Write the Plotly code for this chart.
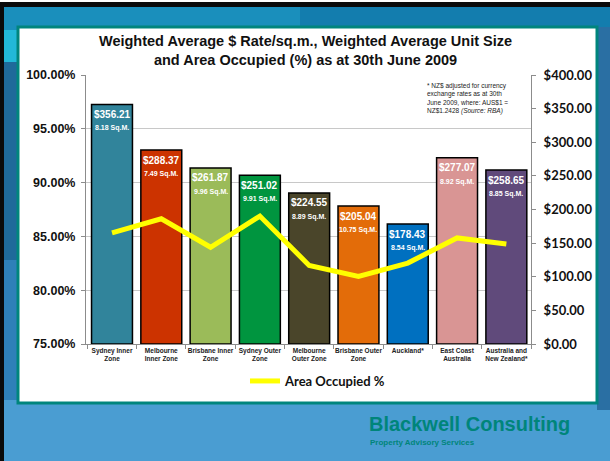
import plotly.graph_objects as go

# ---------------- data ----------------
categories = ["Sydney Inner Zone", "Melbourne Inner Zone", "Brisbane Inner Zone",
              "Sydney Outer Zone", "Melbourne Outer Zone", "Brisbane Outer Zone",
              "Auckland*", "East Coast Australia", "Australia and New Zealand*"]
tick_labels = ["Sydney Inner<br>Zone", "Melbourne<br>Inner Zone", "Brisbane Inner<br>Zone",
               "Sydney Outer<br>Zone", "Melbourne<br>Outer Zone", "Brisbane Outer<br>Zone",
               "Auckland*", "East Coast<br>Australia", "Australia and<br>New Zealand*"]
rate = [356.21, 288.37, 261.87, 251.02, 224.55, 205.04, 178.43, 277.07, 258.65]
unit_size = [8.18, 7.49, 9.96, 9.91, 8.89, 10.75, 8.54, 8.92, 8.85]
area_occupied = [85.33, 86.64, 83.99, 86.89, 82.30, 81.27, 82.52, 84.86, 84.30]
bar_colors = ["#31849B", "#CC3300", "#9BBB59", "#00953F", "#4A452A",
              "#E36C09", "#0070C0", "#D99594", "#604A7B"]
pct_ticks = [75, 80, 85, 90, 95, 100]
pct_grid = [80, 85, 90, 95]
usd_ticks = [0, 50, 100, 150, 200, 250, 300, 350, 400]

# ---------------- geometry helpers ----------------
W, H = 610, 461
L, R, T, B = 86, 531, 75, 344


def px(x):
    return (x - L) / (R - L)


def py(y):
    return (B - y) / (B - T)


fig = go.Figure()

fig.add_trace(go.Bar(
    x=categories, y=rate, yaxis="y",
    marker=dict(color=bar_colors, line=dict(color="#000000", width=1.5)),
    showlegend=False, hoverinfo="skip",
))
fig.add_trace(go.Scatter(
    x=categories, y=area_occupied, yaxis="y2", mode="lines",
    line=dict(color="#FFFF00", width=5),
    name="<b>Area Occupied %</b>",
))

annotations = []
for c, r, u in zip(categories, rate, unit_size):
    annotations.append(dict(x=c, y=r, xref="x", yref="y", text=f"<b>${r:.2f}</b>",
                            showarrow=False, yshift=-10, yanchor="middle",
                            font=dict(family="Liberation Sans", size=10, color="white")))
    annotations.append(dict(x=c, y=r, xref="x", yref="y", text=f"<b>{u:.2f} Sq.M.</b>",
                            showarrow=False, yshift=-24, yanchor="middle",
                            font=dict(family="Liberation Sans", size=7, color="white")))

annotations.append(dict(
    x=px(425), y=py(80), xref="paper", yref="paper", xanchor="left", yanchor="top",
    align="left", showarrow=False,
    text="* NZ$ adjusted for currency<br>exchange rates as at 30th<br>June 2009, where: AUS$1 =<br>NZ$1.2428 <i>(Source: RBA)</i>",
    font=dict(family="Liberation Sans", size=6.5, color="#222222")))
annotations.append(dict(
    x=px(305), y=py(51), xref="paper", yref="paper", xanchor="center", yanchor="middle",
    showarrow=False,
    text="<b>Weighted Average $ Rate/sq.m., Weighted Average Unit Size<br>and Area Occupied (%) as at 30th June 2009</b>",
    font=dict(family="Liberation Sans", size=14.5, color="#111111")))
annotations.append(dict(
    x=px(367), y=py(424), xref="paper", yref="paper", xanchor="left", yanchor="middle",
    showarrow=False, text="<b>Blackwell Consulting</b>",
    font=dict(family="Liberation Sans", size=20, color="#00857A")))
annotations.append(dict(
    x=px(368), y=py(442), xref="paper", yref="paper", xanchor="left", yanchor="middle",
    showarrow=False, text="<b>Property Advisory Services</b>",
    font=dict(family="Liberation Sans", size=8, color="#00857A")))


def rect(x0, y0, x1, y1, fill, line=None, lw=0):
    return dict(type="rect", xref="paper", yref="paper", layer="below",
                x0=px(x0), x1=px(x1), y0=py(y1), y1=py(y0), fillcolor=fill,
                line=dict(color=line or fill, width=lw))


shapes = [
    rect(0, 0, W, 30, "#1A8FBC"),
    rect(300, 0, W, 30, "#137DAE"),
    rect(0, 0, W, 2, "#FFFFFF"),
    rect(0, 2, W, 7, "#0A0A0A"),
    rect(0, 2, 4, H, "#0A0A0A"),
    rect(4, 30, 18, 62, "#22B8D8"),
    rect(4, 62, 18, 260, "#1F6A9A"),
    rect(4, 260, 18, 400, "#2F80B8"),
    rect(597, 27, W, 410, "#2A6FA3"),
    rect(18, 27, 597, 403, "#FFFFFF", "#00857D", 3),
]

fig.update_layout(
    width=W, height=H,
    margin=dict(l=L, r=W - R, t=T, b=H - B, pad=0),
    paper_bgcolor="#4A9DD2",
    plot_bgcolor="rgba(0,0,0,0)",
    bargap=0.17,
    showlegend=True,
    legend=dict(orientation="h", x=px(318), y=py(381), xanchor="center", yanchor="middle",
                bgcolor="rgba(0,0,0,0)",
                font=dict(family="Lato", size=13, color="#111111")),
    xaxis=dict(tickmode="array", tickvals=categories,
               ticktext=[f"<b>{t}</b>" for t in tick_labels], tickangle=0,
               tickfont=dict(family="Liberation Sans", size=6.5, color="#222222"),
               showline=True, linecolor="#8C8C8C", linewidth=1,
               ticks="outside", tickson="boundaries", ticklen=4, tickcolor="#8C8C8C",
               showgrid=False, fixedrange=True),
    yaxis=dict(side="right", range=[0, 400], tickvals=usd_ticks,
               ticktext=[f"<b>${v:.2f}</b>" for v in usd_ticks],
               tickfont=dict(family="Lato", size=13, color="#111111"),
               showline=True, linecolor="#8C8C8C", linewidth=1,
               ticks="outside", ticklen=4, tickcolor="#8C8C8C", ticklabelstandoff=5,
               showgrid=False, zeroline=False),
    yaxis2=dict(side="left", overlaying="y", range=[75, 100], tickvals=pct_ticks,
                ticktext=[f"<b>{v:.2f}%</b>" for v in pct_ticks],
                tickfont=dict(family="Liberation Sans", size=12.5, color="#111111"),
                showline=True, linecolor="#8C8C8C", linewidth=1,
                ticks="outside", ticklen=4, tickcolor="#8C8C8C", ticklabelstandoff=3,
                showgrid=False, zeroline=False),
    yaxis3=dict(overlaying="y", range=[75, 100], tickvals=pct_grid, showticklabels=False,
                showgrid=True, gridcolor="#C8C8C8", gridwidth=1, zeroline=False,
                ticks="", showline=False),
    annotations=annotations,
    shapes=shapes,
)

# invisible helper trace so the grid axis is drawn
fig.add_trace(go.Scatter(x=[categories[0]], y=[75], yaxis="y3", mode="markers",
                         marker=dict(opacity=0), showlegend=False, hoverinfo="skip"))

fig.write_html("out.html", config={"displayModeBar": False},
               post_script="document.body.style.margin='0';")
